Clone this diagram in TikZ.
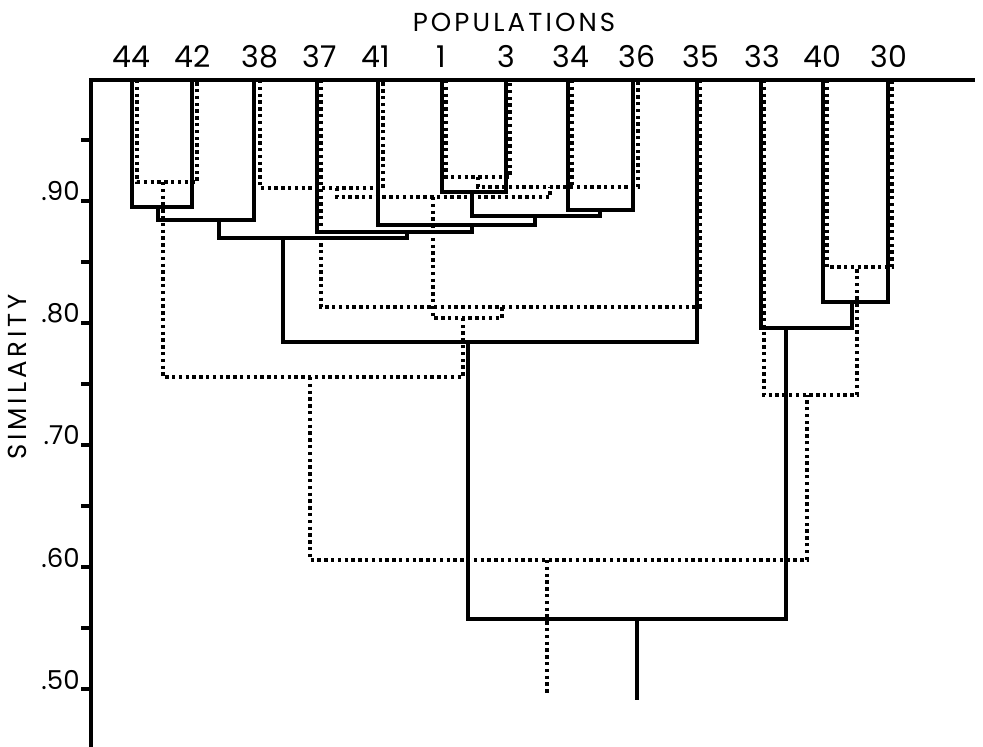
\documentclass[tikz,border=0pt]{standalone}
\usepackage{fontspec}
\setmainfont{Poppins}
\begin{document}
\begin{tikzpicture}[x=0.5pt,y=-0.5pt,
  sol/.style={line width=1.75pt},
  dot/.style={line width=1.6pt,dash pattern=on 1.7pt off 1.7pt},
  axisline/.style={line width=1.75pt},
  leaf/.style={font=\fontsize{15}{15}\selectfont,anchor=base,inner sep=0pt},
  ticklab/.style={font=\fontsize{13}{13}\selectfont,anchor=base east,inner sep=0pt},
  title/.style={font=\fontsize{13}{13}\selectfont,inner sep=0pt}]
\useasboundingbox (0,0) rectangle (983,747);
% axes
\coordinate (ax0) at (91,80);
\coordinate (ax1) at (91,747);
\coordinate (topend) at (975,80);
\draw[axisline] (ax1) -- (ax0) -- (topend);
% ticks
\foreach \v/\y in {95/140,85/262,75/384,65/506,55/628}{
  \coordinate (t\v) at (81,\y);
  \draw[axisline] (t\v) -- (ax0 |- t\v);
}
\foreach \v/\y in {90/201,80/323,70/445,60/567,50/689}{
  \coordinate (t\v) at (81,\y);
  \draw[axisline] (t\v) -- (ax0 |- t\v);
  \node[ticklab] (l\v) at (80,\y) {.\v};
}
% titles
\node[title,anchor=base] (poptitle) at (514,32) {\addfontfeature{LetterSpace=12}POPULATIONS};
\node[title,rotate=90] (simtitle) at (17,377) {\addfontfeature{LetterSpace=15}SIMILARITY};
% leaf labels
\foreach \n/\x in {44/131,42/193,38/260,37/320,41/376,1/441,3/506,34/571,36/637,35/701,33/762,40/822,30/889}{
  \node[leaf] (n\n) at (\x,68) {\n};
}
% solid leaf tops
\foreach \n/\x in {44/132,42/192,38/254,37/317,41/378,1/442,3/506,34/568,36/633,35/697,33/761,40/823,30/888}{
  \coordinate (s\n) at (\x,80);
}
% dotted leaf tops
\foreach \n/\x in {44/137,42/197,38/260,37/321,41/383,1/446,3/510,34/572,36/638,35/700,33/764,40/827,30/892}{
  \coordinate (d\n) at (\x,80);
}
% solid merges
\coordinate (A) at (472,192);
\coordinate (B) at (600,210);
\coordinate (C) at (535,216);
\coordinate (D) at (472,225);
\coordinate (E) at (407,232);
\coordinate (F) at (158,207);
\coordinate (G) at (219,220);
\coordinate (H) at (283,238);
\coordinate (I) at (468,342);
\coordinate (J) at (852,302);
\coordinate (K) at (786,328);
\coordinate (R) at (637,619);
\coordinate (Rend) at (637,700);
\draw[sol] (s1) |- (A) -| (s3);
\draw[sol] (s34) |- (B) -| (s36);
\draw[sol] (A) |- (C) -| (B);
\draw[sol] (s41) |- (D) -| (C);
\draw[sol] (s37) |- (E) -| (D);
\draw[sol] (s44) |- (F) -| (s42);
\draw[sol] (F) |- (G) -| (s38);
\draw[sol] (G) |- (H) -| (E);
\draw[sol] (H) |- (I) -| (s35);
\draw[sol] (s40) |- (J) -| (s30);
\draw[sol] (s33) |- (K) -| (J);
\draw[sol] (I) |- (R) -| (K);
\draw[sol] (R) -- (Rend);
% dotted merges
\coordinate (a) at (478,177);
\coordinate (b) at (550,187);
\coordinate (c) at (337,188);
\coordinate (dd) at (433,197);
\coordinate (e) at (502,307);
\coordinate (f) at (463,318);
\coordinate (g) at (163,182);
\coordinate (h) at (310,377);
\coordinate (i) at (857,267);
\coordinate (j) at (807,395);
\coordinate (r) at (547,560);
\coordinate (rend) at (547,695);
\draw[dot] (d1) |- (a) -| (d3);
\draw[dot] (a) |- (b) -| (d36);
\draw[dot] (d34) -- (d34 |- b);
\draw[dot] (d38) |- (c) -| (d41);
\draw[dot] (c) |- (dd) -| (b);
\draw[dot] (d37) |- (e) -| (d35);
\draw[dot] (dd) |- (f) -| (e);
\draw[dot] (d44) |- (g) -| (d42);
\draw[dot] (g) |- (h) -| (f);
\draw[dot] (d40) |- (i) -| (d30);
\draw[dot] (d33) |- (j) -| (i);
\draw[dot] (h) |- (r) -| (j);
\draw[dot] (r) -- (rend);
\end{tikzpicture}
\end{document}
